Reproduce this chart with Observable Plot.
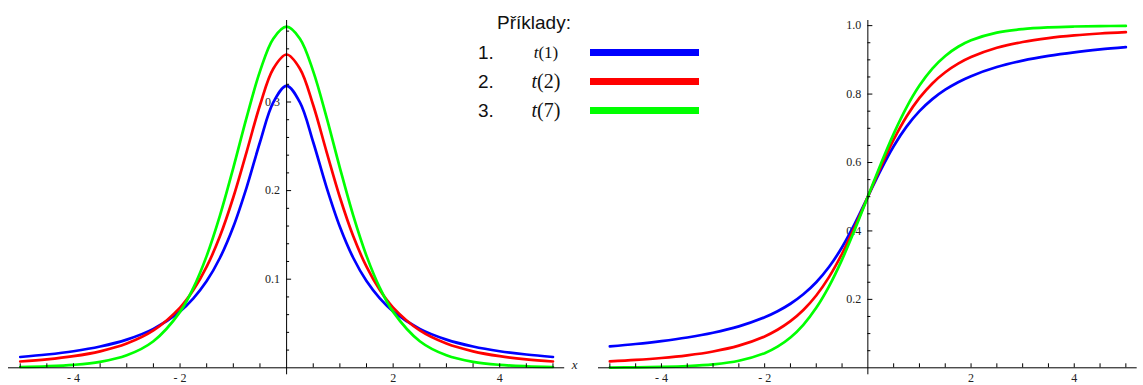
<!DOCTYPE html>
<html><head><meta charset="utf-8">
<script src="https://cdn.jsdelivr.net/npm/d3@7"></script>
<script src="https://cdn.jsdelivr.net/npm/@observablehq/plot@0.6"></script>
<style>
body{margin:0;background:#fff;}
#wrap{position:relative;width:1143px;height:385px;overflow:hidden;background:#fff;}
#left{position:absolute;left:0;top:0;}
#right{position:absolute;left:580px;top:0;}
.lg{position:absolute;white-space:nowrap;line-height:1;color:#111;}
.sans{font-family:"Liberation Sans",Arial,sans-serif;}
.serif{font-family:"Liberation Serif","Times New Roman",serif;}
.bar{position:absolute;height:7px;}
</style></head><body>
<div id="wrap"><div id="left"></div><div id="right"></div><div id="legend"></div></div>
<script>
// x positions of the sampled points
const xs = [-5,-4.5,-4,-3.5,-3,-2.5,-2,-1.75,-1.5,-1.25,-1,-0.75,-0.5,-0.25,0,0.25,0.5,0.75,1,1.25,1.5,1.75,2,2.5,3,3.5,4,4.5,5];
// density (left panel)
const pdfT1 = [0.0122,0.0150,0.0187,0.0240,0.0318,0.0439,0.0637,0.0784,0.0979,0.1242,0.1592,0.2037,0.2546,0.2996,0.3183,0.2996,0.2546,0.2037,0.1592,0.1242,0.0979,0.0784,0.0637,0.0439,0.0318,0.0240,0.0187,0.0150,0.0122];
const pdfT2 = [0.0071,0.0095,0.0131,0.0186,0.0274,0.0422,0.0680,0.0878,0.1141,0.1487,0.1925,0.2438,0.2963,0.3376,0.3536,0.3376,0.2963,0.2438,0.1925,0.1487,0.1141,0.0878,0.0680,0.0422,0.0274,0.0186,0.0131,0.0095,0.0071];
const pdfT7 = [0.0009,0.0017,0.0033,0.0067,0.0141,0.0300,0.0631,0.0902,0.1263,0.1720,0.2257,0.2826,0.3346,0.3715,0.3850,0.3715,0.3346,0.2826,0.2257,0.1720,0.1263,0.0902,0.0631,0.0300,0.0141,0.0067,0.0033,0.0017,0.0009];
// distribution function (right panel)
const cdfT1 = [0.0628,0.0696,0.0780,0.0886,0.1024,0.1211,0.1476,0.1653,0.1872,0.2148,0.2500,0.2952,0.3524,0.4220,0.5,0.5780,0.6476,0.7048,0.75,0.7852,0.8128,0.8347,0.8524,0.8789,0.8976,0.9114,0.9220,0.9304,0.9372];
const cdfT2 = [0.0189,0.0230,0.0286,0.0364,0.0477,0.0648,0.0918,0.1111,0.1362,0.1689,0.2113,0.2657,0.3333,0.4130,0.5,0.5870,0.6667,0.7343,0.7887,0.8311,0.8638,0.8889,0.9082,0.9352,0.9523,0.9636,0.9714,0.9770,0.9811];
const cdfT7 = [0.0008,0.0014,0.0026,0.0050,0.0100,0.0205,0.0428,0.0618,0.0886,0.1257,0.1753,0.2388,0.3162,0.4049,0.5,0.5951,0.6838,0.7612,0.8247,0.8743,0.9114,0.9382,0.9572,0.9795,0.9900,0.9950,0.9974,0.9986,0.9992];

const seriesNames = ["t(1)","t(2)","t(7)"];
const seriesColors = ["#0000ff","#ff0000","#00ff00"];
const legendTitle = "Příklady:";
const legendNumbers = ["1.","2.","3."];

// ticks
const xTicks = [-4,-2,2,4];
const xMinorTicks = [-5,-4.5,-4,-3.5,-3,-2.5,-2,-1.5,-1,-0.5,0.5,1,1.5,2,2.5,3,3.5,4,4.5,5];
const pdfTicks = [0.1,0.2,0.3];
const pdfMinorTicks = [0.02,0.04,0.06,0.08,0.12,0.14,0.16,0.18,0.22,0.24,0.26,0.28,0.32,0.34,0.36,0.38];
const cdfTicks = [0.2,0.4,0.6,0.8,1.0];
const cdfMinorTicks = [0.05,0.1,0.15,0.25,0.3,0.35,0.45,0.5,0.55,0.65,0.7,0.75,0.85,0.9,0.95];

const fmtX = d => d < 0 ? "- " + Math.abs(d) : String(d);

function panel({width, marginLeft, marginRight, yMax, series, yTicks, yMinor, xLabel}) {
  const rows = [];
  series.forEach((vals, s) => vals.forEach((v, i) => rows.push({x: xs[i], y: v, s: seriesNames[s]})));
  return Plot.plot({
    width, height: 385, marginLeft, marginRight, marginTop: 20, marginBottom: 17.7,
    x: {domain: [-5.22, 5.22], axis: null},
    y: {domain: [0, yMax], axis: null},
    color: {domain: seriesNames, range: seriesColors},
    style: {fontFamily: "'Liberation Serif', 'Times New Roman', serif", background: "white", overflow: "visible"},
    marks: [
      Plot.text(xTicks, {x: d => d, y: 0, text: fmtX, dy: 10.8, fontSize: 12, fill: "#222"}),
      Plot.text(yTicks, {x: 0, y: d => d, text: d => d.toFixed(1), textAnchor: "end", dx: -6.5, fontSize: 12, fill: "#222"}),
      xLabel ? Plot.text([xLabel], {frameAnchor: "bottom-right", text: d => d, textAnchor: "start", dx: 7, dy: 1.5, fontStyle: "italic", fontSize: 13, fill: "#222"}) : null,
      Plot.line(rows, {x: "x", y: "y", stroke: "s", strokeWidth: 2.7, curve: "catmull-rom"}),
      Plot.ruleY([0], {stroke: "#000", strokeWidth: 1}),
      Plot.ruleX([0], {stroke: "#000", strokeWidth: 1, insetBottom: -7}),
      Plot.ruleX(xMinorTicks, {x: d => d, y1: 0, y2: 0, insetTop: -4, stroke: "#000", strokeWidth: 1}),
      Plot.ruleY(yMinor, {y: d => d, x1: 0, x2: 0, insetRight: -3, stroke: "#000", strokeWidth: 1}),
      Plot.ruleY(yTicks, {y: d => d, x1: 0, x2: 0, insetRight: -5, stroke: "#000", strokeWidth: 1})
    ]
  });
}

document.getElementById("left").append(panel({
  width: 580, marginLeft: 8, marginRight: 15.8, yMax: 0.392,
  series: [pdfT1, pdfT2, pdfT7], yTicks: pdfTicks, yMinor: pdfMinorTicks, xLabel: "x"
}));
document.getElementById("right").append(panel({
  width: 563, marginLeft: 18, marginRight: 6.3, yMax: 1.015,
  series: [cdfT1, cdfT2, cdfT7], yTicks: cdfTicks, yMinor: cdfMinorTicks, xLabel: null
}));

// legend
const lg = document.getElementById("legend");
function add(html, cls, style) {
  const d = document.createElement("div");
  d.className = "lg " + cls;
  d.innerHTML = html;
  Object.assign(d.style, style);
  lg.append(d);
  return d;
}
add(legendTitle, "sans", {left: "497px", top: "13px", fontSize: "19px"});
const rowY = [52.5, 81, 110];
const labelSizes = [17, 20, 20];
seriesNames.forEach((name, i) => {
  add(legendNumbers[i], "sans", {left: "478px", top: (rowY[i] - 9.5) + "px", fontSize: "19px"});
  const m = name.match(/^(t)(\(.*\))$/);
  add(`<i>${m[1]}</i>${m[2]}`, "serif", {left: "516px", width: "60px", textAlign: "center", top: (rowY[i] - labelSizes[i] / 2) + "px", fontSize: labelSizes[i] + "px"});
  const b = document.createElement("div");
  b.className = "bar";
  Object.assign(b.style, {left: "590px", width: "109px", top: (rowY[i] - 3.5) + "px", background: seriesColors[i]});
  lg.append(b);
});
</script>
</body></html>
